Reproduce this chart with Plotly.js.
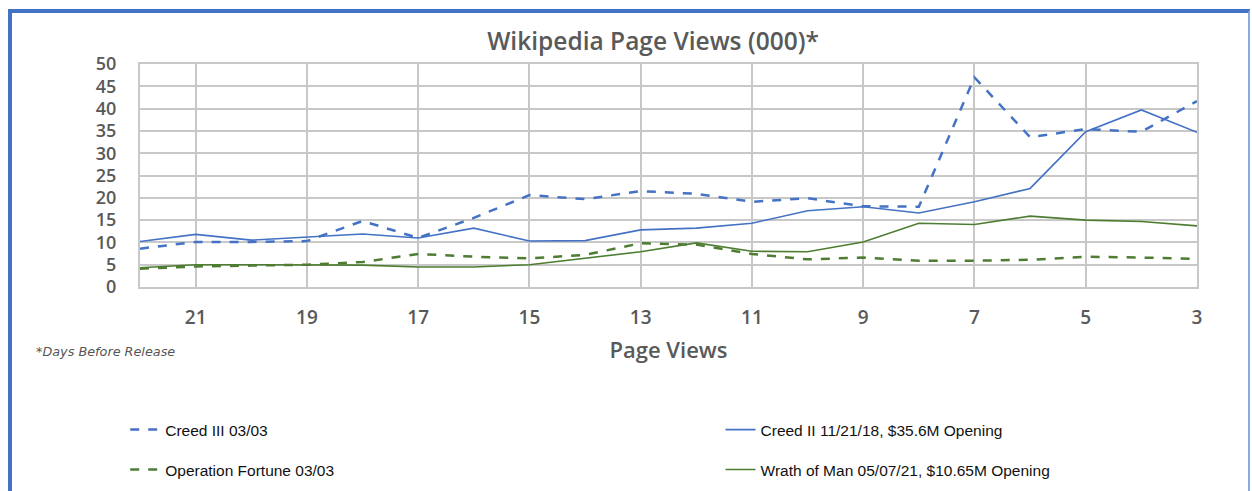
<!DOCTYPE html>
<html>
<head>
<meta charset="utf-8">
<script src="https://cdn.plot.ly/plotly-3.0.1.min.js"></script>
<style>
html,body{margin:0;padding:0;background:#fff;overflow:hidden;}
#wrap{position:relative;width:1252px;height:491px;}
#chart{position:absolute;left:0;top:0;width:1252px;height:491px;}
#frame{position:absolute;left:8px;top:9px;width:1236px;height:600px;border-left:4px solid #4472C4;border-top:4px solid #4472C4;border-right:2px solid #8EA9DB;pointer-events:none;}
</style>
</head>
<body>
<div id="wrap"><div id="chart"></div><div id="frame"></div></div>
<script>
// Days before release (x axis, reversed)
const days = [22,21,20,19,18,17,16,15,14,13,12,11,10,9,8,7,6,5,4,3];
const creedIII = [8.6,10.1,10.1,10.3,14.8,11,15.5,20.6,19.7,21.5,20.9,19.1,19.9,18.1,18,47,33.6,35.4,34.8,41.7];
const creedII = [10.2,11.8,10.5,11.2,11.9,11,13.2,10.3,10.4,12.8,13.2,14.3,17.1,18,16.6,19.1,22.1,34.8,39.7,34.7];
const opFortune = [4.1,4.6,4.8,5,5.6,7.4,6.8,6.4,7.2,9.8,9.5,7.4,6.2,6.6,5.9,5.9,6.1,6.8,6.6,6.3];
const wrathOfMan = [4.3,5,5,5,4.9,4.5,4.5,5,6.5,7.9,9.9,8,7.9,10.1,14.3,14,15.9,15,14.7,13.7];
const names = ["Creed III 03/03","Creed II 11/21/18, $35.6M Opening","Operation Fortune 03/03","Wrath of Man 05/07/21, $10.65M Opening"];
const xTicks = [21,19,17,15,13,11,9,7,5,3];

const blue = "#4472C4", green = "#4E7D32";
const traces = [
  {x:days,y:creedIII,name:names[0],mode:"lines",line:{color:blue,width:2.5,dash:"dash"},legend:"legend",showlegend:true},
  {x:days,y:creedII,name:names[1],mode:"lines",line:{color:blue,width:1.6},legend:"legend2",showlegend:true},
  {x:days,y:opFortune,name:names[2],mode:"lines",line:{color:green,width:2.5,dash:"dash"},legend:"legend3",showlegend:true},
  {x:days,y:wrathOfMan,name:names[3],mode:"lines",line:{color:green,width:1.6},legend:"legend4",showlegend:true}
];
const legFont = {family:"Liberation Sans Narrow, Arial Narrow, Liberation Sans, sans-serif",size:15.5,color:"#111"};
function leg(x,y){return {orientation:"h",xref:"container",yref:"container",x:x,xanchor:"left",y:y,yanchor:"middle",font:legFont,bgcolor:"rgba(0,0,0,0)",visible:true};}
const axFont = {family:"Open Sans, sans-serif",size:19,color:"#595959",weight:600};
const layout = {
  width:1252,height:491,
  showlegend:true,
  margin:{l:140,r:55,t:64,b:204},
  paper_bgcolor:"rgba(0,0,0,0)",plot_bgcolor:"#fff",
  title:{text:"Wikipedia Page Views (000)*",x:0.5216,xanchor:"center",y:0.915,yanchor:"middle",
         font:{family:"Open Sans, sans-serif",size:24.5,color:"#595959",weight:600}},
  xaxis:{range:[22,3],tickvals:xTicks,ticktext:xTicks.map(String),showgrid:true,gridcolor:"#C8C8C8",gridwidth:2,
         showline:true,linecolor:"#C8C8C8",linewidth:2,mirror:true,ticks:"",zeroline:false,ticklabelstandoff:12,
         tickfont:axFont,automargin:false,
         title:{text:"Page Views",standoff:14,font:{family:"Open Sans, sans-serif",size:22,color:"#595959",weight:600}}},
  yaxis:{range:[0,50],dtick:5,showgrid:true,gridcolor:"#C8C8C8",gridwidth:2,showline:true,linecolor:"#C8C8C8",linewidth:2,mirror:true,
         zeroline:false,ticks:"",ticklabelstandoff:18,automargin:false,
         tickfont:{family:"Open Sans, sans-serif",size:18,color:"#595959",weight:600}},
  legend:leg(0.1,0.1242),
  legend2:leg(0.5755,0.1242),
  legend3:leg(0.1,0.0428),
  legend4:leg(0.5755,0.0428),
  annotations:[{text:"*Days Before Release",xref:"paper",yref:"paper",x:-0.1,y:-0.291,xanchor:"left",yanchor:"middle",showarrow:false,
    font:{family:"DejaVu Sans, sans-serif",size:12.8,color:"#555",style:"italic"}}]
};
Plotly.newPlot("chart",traces,layout,{displayModeBar:false,staticPlot:true});
</script>
</body>
</html>
